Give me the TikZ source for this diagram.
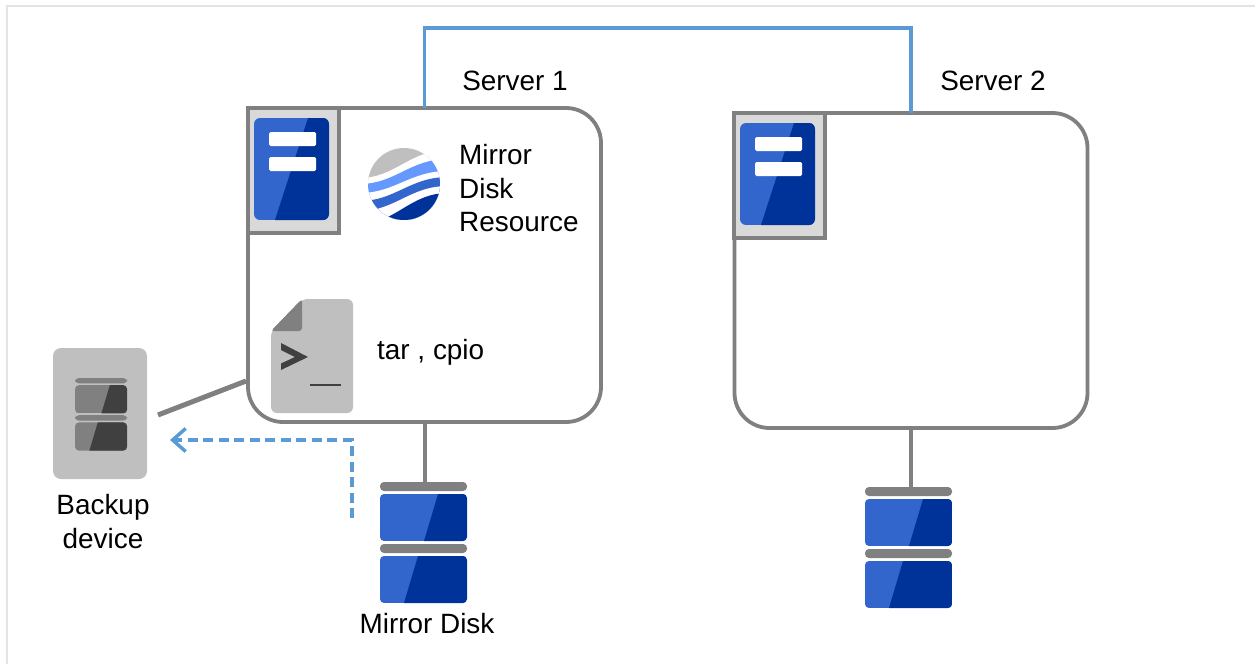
\documentclass[tikz,border=0pt]{standalone}
\usepackage{fontspec}
\setmainfont{Liberation Sans}
\usetikzlibrary{positioning,calc,arrows.meta}

\definecolor{linegray}{HTML}{808080}
\definecolor{panelgray}{HTML}{BFBFBF}
\definecolor{cellgray}{HTML}{D9D9D9}
\definecolor{inkgray}{HTML}{404040}
\definecolor{lightblue}{HTML}{3366CC}
\definecolor{darkblue}{HTML}{003399}
\definecolor{skyblue}{HTML}{6699FF}
\definecolor{netblue}{HTML}{5B9BD5}

\tikzset{
	label/.style={font=\fontsize{27.9}{33.5}\selectfont,inner sep=0pt,align=left},
	serverbox/.style={draw=linegray,line width=3.8pt,rounded corners=35pt,minimum width=353pt,outer sep=0pt},
	cell/.style={draw=linegray,fill=cellgray,line width=3.8pt,minimum width=91pt,minimum height=125pt,outer sep=0pt},
	pics/srvicon/.style={code={
		\begin{scope}
			\clip [rounded corners=6pt] (0,0) rectangle (75,102);
			\fill [lightblue] (0,0) rectangle (75,102);
			\fill [darkblue] (54,0) -- (75,0) -- (75,102) -- (21,102) -- cycle;
		\end{scope}
		\foreach \y in {14,39} {
			\fill [white,rounded corners=1.5pt] (15,\y) rectangle (62,\y+14);
		}
	}},
	pics/diskstack/.style 2 args={code={
		\coordinate (-top) at (43.5,0);
		\foreach \y/\a/\b in {0/58/44,62/38/24} {
			\fill [linegray,rounded corners=4pt] (0,\y) rectangle (87,\y+9);
			\begin{scope}
				\clip [rounded corners=4pt] (0,\y+12) rectangle (87,\y+59);
				\fill [#1] (0,\y+12) rectangle (87,\y+59);
				\fill [#2] (\a,\y+12) -- (87,\y+12) -- (87,\y+59) -- (\b,\y+59) -- cycle;
			\end{scope}
		}
	}},
}

\begin{document}
\begin{tikzpicture}[x=1pt,y=-1pt]

\useasboundingbox (0,0) rectangle (1255,664);

\draw [cellgray!70,line width=1.5pt] (7,664) -- (7,6) -- (1255,6);

%%%%%%%%%%%%%%%%%%%%%%%%%%%%%%%%%%%%%%%%%%%%%%%%%%%%%%%%%%%%%%%%

\node [serverbox,minimum height=314pt] at (424.5,265) (server1) {};
\node [serverbox,minimum height=315pt] at (911,270.5) (server2) {};

\draw [netblue,line width=3.5pt] (server1.north) -- ++(0,-80) -| (server2.north);

\node [cell] at (293.5,170.5) (cell1) {};
\node [cell] at (779.5,175.5) (cell2) {};
\pic at (254,118) {srvicon};
\pic at (740,123) {srvicon};

\node [label] at (515,81) (name1) {Server 1};
\node [label] at (993,81) (name2) {Server 2};

%%%%%%%%%%%%%%%%%%%%%%%%%%%%%%%%%%%%%%%%%%%%%%%%%%%%%%%%%%%%%%%%

\begin{scope}
	\clip (404,184) circle (36);
	\fill [panelgray] (360,140) rectangle (450,230);
	\foreach \c/\a/\b in {white/178/150,skyblue/184/159,white/193/171,lightblue/201/177,white/211/186,darkblue/224/193} {
		\fill [\c] (360,\a) .. controls (395,\a) and (410,\b) .. (448,\b) -- (448,230) -- (360,230) -- cycle;
	}
\end{scope}
\node [label,anchor=west] at (459,188.5) (mirror) {Mirror\\Disk\\Resource};

%%%%%%%%%%%%%%%%%%%%%%%%%%%%%%%%%%%%%%%%%%%%%%%%%%%%%%%%%%%%%%%%

\fill [panelgray,rounded corners=6pt] (302,299) -- (353,299) -- (353,413) -- (271,413) -- (271,331) -- cycle;
\fill [linegray,rounded corners=3pt] (302,299) -- (302,331) -- (271,331) -- cycle;
\fill [inkgray] (281,343) -- (308,357) -- (281,370) -- (281,363.5) -- (295,357) -- (281,350) -- cycle;
\draw [inkgray,line width=2pt] (310,385) -- (341,385);
\node [label,anchor=west] at (377,352) (tool) {tar , cpio};

%%%%%%%%%%%%%%%%%%%%%%%%%%%%%%%%%%%%%%%%%%%%%%%%%%%%%%%%%%%%%%%%

\pic (disk1) at (380,482) {diskstack={lightblue}{darkblue}};
\pic (disk2) at (865,487) {diskstack={lightblue}{darkblue}};
\draw [linegray,line width=4pt] (server1.south) -- (server1.south |- disk1-top);
\draw [linegray,line width=4pt] (server2.south) -- (server2.south |- disk2-top);
\node [label] at (427,624) (disklabel) {Mirror Disk};

%%%%%%%%%%%%%%%%%%%%%%%%%%%%%%%%%%%%%%%%%%%%%%%%%%%%%%%%%%%%%%%%

\node [fill=panelgray,rounded corners=8pt,minimum width=94pt,minimum height=131pt,inner sep=0pt] at (100,413.5) (backup) {};
\pic [scale=.6] at (75,378) {diskstack={linegray}{inkgray}};
\node [label,align=center] at (103,521.5) (backuplabel) {Backup\\device};

\coordinate (linkstart) at (158,415);
\coordinate (linkend) at (246,381);
\draw [linegray,line width=5pt] (linkstart) -- (linkend);

\coordinate (copystart) at (352,518);
\coordinate (copyend) at (170,440);
\draw [netblue,line width=3.5pt,dash pattern=on 10pt off 5.5pt,-{Straight Barb[length=13pt,width=23pt,line width=3.5pt]}] (copystart) |- (copyend);

\end{tikzpicture}
\end{document}
